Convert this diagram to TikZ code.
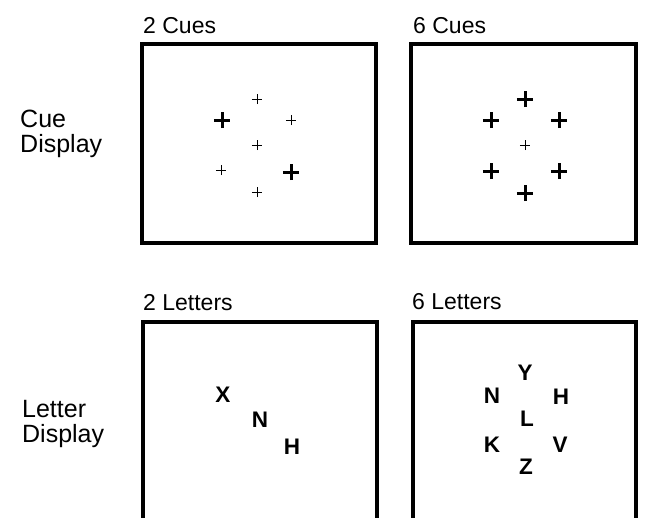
\documentclass[tikz,border=0pt]{standalone}
\usepackage{fontspec}
\setmainfont{Liberation Sans}
\usetikzlibrary{shapes.misc}

\begin{document}
\begin{tikzpicture}[x=1pt, y=-1pt,
    panel/.style={draw, line width=3.2pt},
    head/.style={anchor=base west, inner sep=0pt, font=\fontsize{23}{27}\selectfont},
    side/.style={anchor=north west, inner sep=0pt, align=left,
      font=\fontsize{25}{25}\selectfont},
    smallcue/.style={cross out, draw, rotate=45, inner sep=0pt, minimum size=6.2pt,
      line width=1pt},
    boldcue/.style={cross out, draw, rotate=45, inner sep=0pt, minimum size=8.5pt,
      line width=3pt},
    letter/.style={inner sep=0pt, font=\fontsize{22.5}{22.5}\selectfont\bfseries}]
  \clip (0,0) rectangle (645,517);
  \fill[white] (0,0) rectangle (645,517);
  % panels
  \draw[panel] (142,44) rectangle (376,243);
  \draw[panel] (411,44) rectangle (636,243);
  \draw[panel] (143,322) rectangle (377,560);
  \draw[panel] (413,322) rectangle (636,560);
  % labels
  \node[head] (twocues) at (143,33) {2 Cues};
  \node[head] (sixcues) at (413,33) {6 Cues};
  \node[head] (twolet) at (143,310) {2 Letters};
  \node[head] (sixlet) at (412,309) {6 Letters};
  \node[side] (cuedisp) at (20,110) {Cue\\Display};
  \node[side] (letdisp) at (22,400) {Letter\\Display};
  % cue crosses
  \foreach \st/\x/\y [count=\i] in {smallcue/257/99, boldcue/222/120, smallcue/291/120,
      smallcue/257/145, smallcue/221/170, boldcue/291/172, smallcue/257/192}
    \node[\st] (ca\i) at (\x,\y) {};
  \foreach \st/\x/\y [count=\i] in {boldcue/525/99, boldcue/491/120, boldcue/559/120,
      smallcue/525/145, boldcue/491/171, boldcue/559/171, boldcue/525/193}
    \node[\st] (cb\i) at (\x,\y) {};
  % letters
  \foreach \l/\x/\y in {X/223/395, N/260/420, H/292/447}
    \node[letter] (la\l) at (\x,\y) {\l};
  \foreach \l/\x/\y in {Y/525/373, N/492/396, H/561/397, L/527/419,
      K/492/445, V/560/445, Z/526/467}
    \node[letter] (lb\l) at (\x,\y) {\l};
\end{tikzpicture}
\end{document}
